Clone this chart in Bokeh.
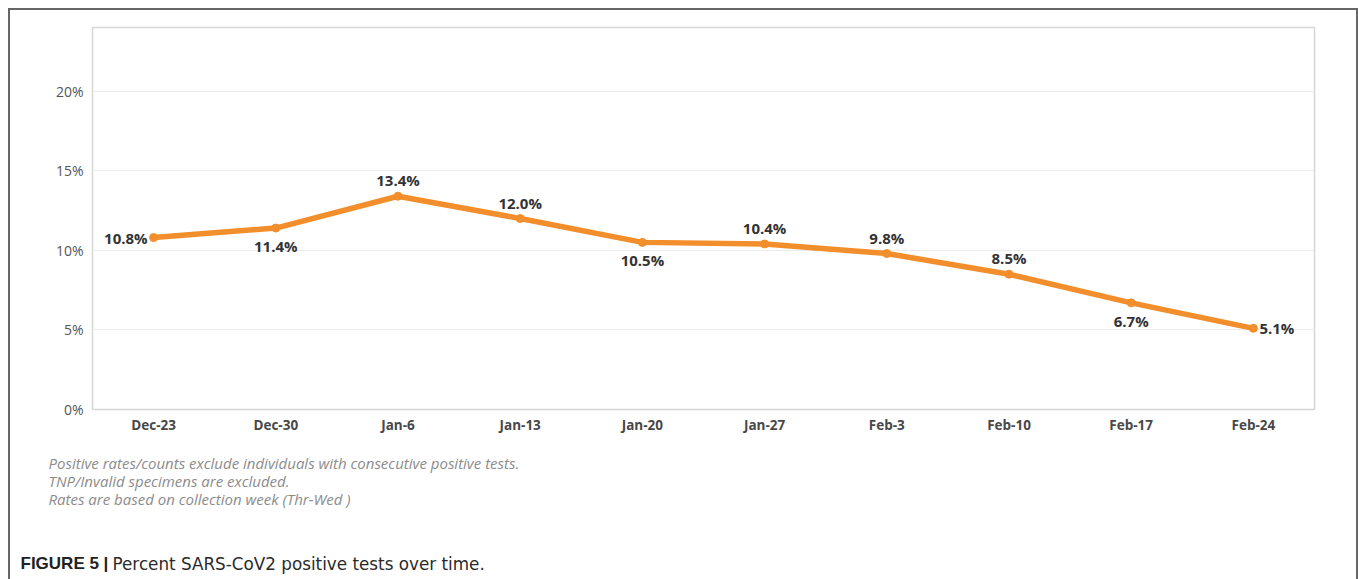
from bokeh.plotting import figure
from bokeh.layouts import column
from bokeh.models import ColumnDataSource, FactorRange, Range1d, FixedTicker, PrintfTickFormatter
from bokeh.core.properties import value
from bokeh.embed import file_html
from bokeh.resources import INLINE

# ---- data ----
weeks = ["Dec-23", "Dec-30", "Jan-6", "Jan-13", "Jan-20", "Jan-27", "Feb-3", "Feb-10", "Feb-17", "Feb-24"]
positive_pct = [10.8, 11.4, 13.4, 12.0, 10.5, 10.4, 9.8, 8.5, 6.7, 5.1]
y_ticks = [0, 5, 10, 15, 20]
notes = [
    "Positive rates/counts exclude individuals with consecutive positive tests.",
    "TNP/Invalid specimens are excluded.",
    "Rates are based on collection week (Thr-Wed )",
]
caption_bold = "FIGURE 5 |"
caption_text = "Percent SARS-CoV2 positive tests over time."

# label placement (styling)
placement = ["left", "below", "above", "above", "below", "above", "above", "above", "below", "right"]

ORANGE = "#F28E2B"
W = 1346

p = figure(width=W, height=430, x_range=FactorRange(*weeks, range_padding=0),
           y_range=Range1d(0, 24), output_backend="svg", toolbar_location=None,
           min_border_left=82, min_border_right=42, min_border_top=17, min_border_bottom=31)
p.frame_align = False

p.line(weeks, positive_pct, line_color=ORANGE, line_width=5.5, line_join="round")
p.scatter(weeks, positive_pct, size=8, color=ORANGE)

xo, yo, al = [], [], []
for pl in placement:
    if pl == "left":
        xo.append(-6); yo.append(0); al.append("right")
    elif pl == "right":
        xo.append(6); yo.append(0); al.append("left")
    elif pl == "above":
        xo.append(0); yo.append(-16); al.append("center")
    else:
        xo.append(0); yo.append(18); al.append("center")

src = ColumnDataSource(dict(x=weeks, y=positive_pct, t=[f"{v:.1f}%" for v in positive_pct],
                            xo=xo, yo=yo, al=al))
p.text(x="x", y="y", text="t", x_offset="xo", y_offset="yo", text_align="al", text_baseline="middle",
       source=src, text_font=value("Open Sans"), text_font_style="bold", text_font_size="15px",
       text_color="#333333")

# axes
p.yaxis.ticker = FixedTicker(ticks=y_ticks)
p.yaxis.formatter = PrintfTickFormatter(format="%d%%")
for ax in (p.xaxis[0], p.yaxis[0]):
    ax.axis_line_color = None
    ax.major_tick_line_color = None
    ax.minor_tick_line_color = None
    ax.major_tick_out = 0
    ax.major_tick_in = 0
    ax.major_label_text_font = "Open Sans"
p.yaxis.major_label_text_font_size = "14px"
p.yaxis.major_label_text_color = "#555555"
p.yaxis.major_label_standoff = 9
p.xaxis.major_label_text_font_size = "13.5px"
p.xaxis.major_label_text_font_style = "bold"
p.xaxis.major_label_text_color = "#484848"
p.xaxis.major_label_standoff = 6

p.xgrid.grid_line_color = None
p.ygrid.ticker = FixedTicker(ticks=y_ticks)
p.ygrid.grid_line_color = "#ececec"
p.outline_line_color = "#d6d6d6"
p.outline_line_width = 1.5

# ---- notes / caption panel ----
H2 = 139
q = figure(width=W, height=H2, x_range=Range1d(0, W), y_range=Range1d(0, H2),
           output_backend="svg", toolbar_location=None, min_border=0)
q.frame_align = False
q.axis.visible = False
q.grid.grid_line_color = None
q.outline_line_color = None

q.text(x=[38, 38, 38], y=[117, 99, 81], text=notes, text_font=value("Open Sans"),
       text_font_style="italic", text_font_size="15px", text_color="#8c8c8c", text_baseline="middle")
q.text(x=[10], y=[16], text=[caption_bold], text_font=value("Liberation Sans"), text_font_style="bold",
       text_font_size="17px", text_color="#222222", text_baseline="middle")
q.text(x=[102], y=[16], text=[caption_text], text_font=value("DejaVu Sans"),
       text_font_size="16.8px", text_color="#2a2a2a", text_baseline="middle")

layout = column(p, q, spacing=0)
layout.styles = {"margin-left": "8px", "margin-top": "8px",
                 "border-left": "2px solid #666", "border-top": "2px solid #666",
                 "border-right": "2px solid #666"}

open("out.html", "w").write(file_html(layout, INLINE))
